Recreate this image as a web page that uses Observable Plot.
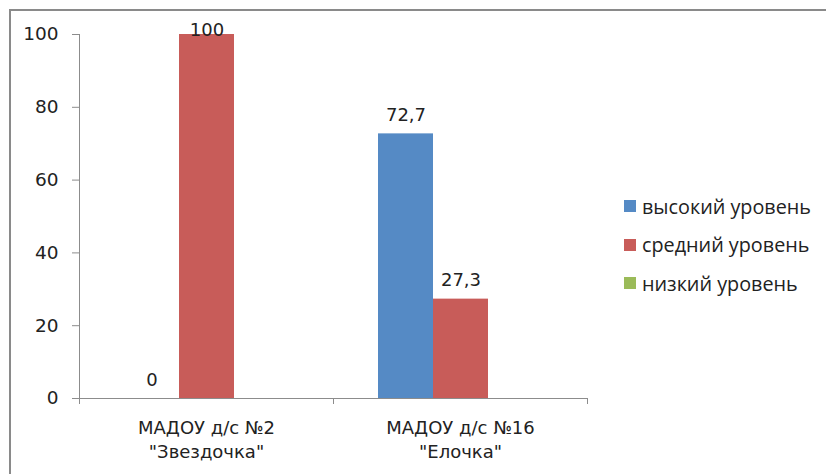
<!DOCTYPE html>
<html><head><meta charset="utf-8">
<script src="https://cdn.jsdelivr.net/npm/d3@7"></script>
<script src="https://cdn.jsdelivr.net/npm/@observablehq/plot@0.6"></script>
<style>
body{margin:0;background:#fff;}
#wrap{position:relative;width:826px;height:474px;overflow:hidden;background:#fff;}
#border{position:absolute;left:9px;top:9px;width:900px;height:900px;border-top:2px solid #8a8a8a;border-left:2px solid #8a8a8a;}
#chart{position:absolute;left:0;top:0;}
#legend{position:absolute;left:624px;top:187px;font-family:"Open Sans";font-size:19.8px;color:#222;}
.row{display:flex;align-items:center;height:38.5px;white-space:nowrap;}
.sw{width:12px;height:12px;margin-right:6px;flex:none;}
</style></head><body>
<div id="wrap"><div id="border"></div><div id="chart"></div><div id="legend"></div></div>
<script>
const groups = ["МАДОУ д/с №2\n\"Звездочка\"", "МАДОУ д/с №16\n\"Елочка\""];
const series = ["высокий уровень", "средний уровень", "низкий уровень"];
const high = [0, 72.7];
const medium = [100, 27.3];
const low = [null, null];
const colors = ["#558ac5", "#c85c59", "#9bbb59"];
const yTicks = [0, 20, 40, 60, 80, 100];

const values = [high, medium, low];
const data = groups.flatMap((g, i) => series.map((s, j) => ({group: g, series: s, value: values[j][i]})));
const present = data.filter(d => d.value != null);
const fmt = v => String(v).replace(".", ",");

const plot = Plot.plot({
  width: 826, height: 474,
  marginLeft: 79, marginRight: 239, marginTop: 34, marginBottom: 76,
  style: {fontFamily: "DejaVu Sans", fontSize: "17px", color: "#222", background: "transparent"},
  fx: {domain: groups, padding: 0, axis: null},
  x: {domain: series, paddingInner: 0, paddingOuter: 0.77, axis: null},
  y: {domain: [0, 100]},
  color: {domain: series, range: colors},
  marks: [
    Plot.axisY({ticks: yTicks, tickSize: 7, tickPadding: 14, stroke: "#8c8c8c", fill: "#222", fontSize: 18.5, label: null}),
    Plot.barY(present, {fx: "group", x: "series", y: "value", fill: "series"}),
    Plot.ruleY([0], {stroke: "#8c8c8c"}),
    Plot.text(present.filter(d => d.value < 90), {fx: "group", x: "series", y: "value", text: d => fmt(d.value), dy: -13, lineAnchor: "bottom", fill: "#222", fontSize: 18}),
    Plot.text(present.filter(d => d.value >= 90), {fx: "group", x: "series", y: "value", text: d => fmt(d.value), dy: 1, lineAnchor: "bottom", fill: "#222", fontSize: 18}),
    Plot.text(groups, {fx: d => d, text: d => d, frameAnchor: "bottom", lineAnchor: "top", dy: 18, lineHeight: 1.35, fill: "#222", fontSize: 18})
  ]
});

const fxs = plot.scale("fx"), ys = plot.scale("y");
const bw = fxs.bandwidth != null ? fxs.bandwidth : (fxs.range[1] - fxs.range[0]) / groups.length;
const y0 = ys.apply(0), y1 = ys.apply(100);
const left = fxs.apply(groups[0]);
const g = d3.select(plot).append("g").attr("stroke", "#8c8c8c").attr("shape-rendering", "crispEdges");
g.append("line").attr("x1", left).attr("x2", left).attr("y1", y1).attr("y2", y0 + 6);
groups.forEach(gr => {
  const xr = fxs.apply(gr) + bw;
  g.append("line").attr("x1", xr).attr("x2", xr).attr("y1", y0).attr("y2", y0 + 6);
});
document.getElementById("chart").appendChild(plot);

const legend = d3.select("#legend");
series.forEach((s, i) => {
  const row = legend.append("div").attr("class", "row");
  row.append("div").attr("class", "sw").style("background", colors[i]);
  row.append("span").text(s);
});
</script>
</body></html>
